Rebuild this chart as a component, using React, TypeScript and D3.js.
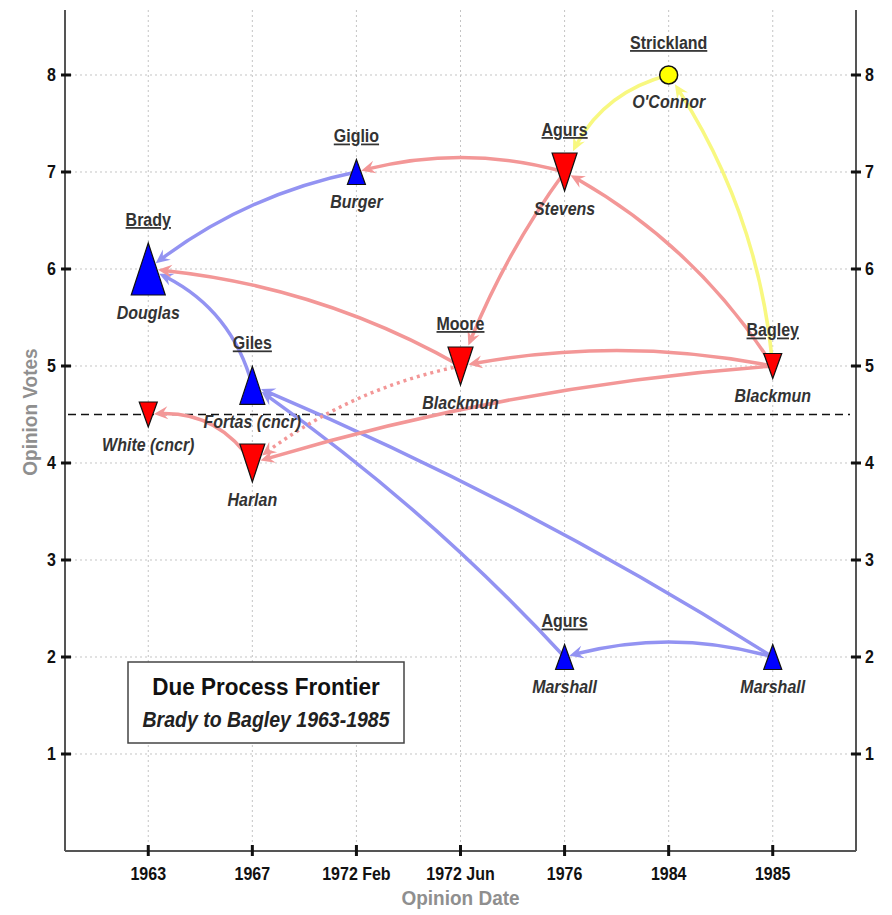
import React, { useRef, useEffect } from "react";
import * as d3 from "d3";

const W = 892;
const H = 915;

const dates = ["1963", "1967", "1972 Feb", "1972 Jun", "1976", "1984", "1985"];
const voteTicks = [1, 2, 3, 4, 5, 6, 7, 8];
const majorityLine = 4.5;

type Side = "lib" | "con" | "swing";

interface Opinion {
  id: string;
  date: string;
  votes: number;
  caseName: string;
  justice: string;
  side: Side;
  weight: number;
}

const opinions: Opinion[] = [
  { id: "brady", date: "1963", votes: 6, caseName: "Brady", justice: "Douglas", side: "lib", weight: 3 },
  { id: "white", date: "1963", votes: 4.5, caseName: "", justice: "White (cncr)", side: "con", weight: 1 },
  { id: "giles", date: "1967", votes: 4.8, caseName: "Giles", justice: "Fortas (cncr)", side: "lib", weight: 2 },
  { id: "harlan", date: "1967", votes: 4, caseName: "", justice: "Harlan", side: "con", weight: 2 },
  { id: "giglio", date: "1972 Feb", votes: 7, caseName: "Giglio", justice: "Burger", side: "lib", weight: 1 },
  { id: "moore", date: "1972 Jun", votes: 5, caseName: "Moore", justice: "Blackmun", side: "con", weight: 2 },
  { id: "agursMaj", date: "1976", votes: 7, caseName: "Agurs", justice: "Stevens", side: "con", weight: 2 },
  { id: "agursDis", date: "1976", votes: 2, caseName: "Agurs", justice: "Marshall", side: "lib", weight: 1 },
  { id: "strickland", date: "1984", votes: 8, caseName: "Strickland", justice: "O'Connor", side: "swing", weight: 1 },
  { id: "bagleyMaj", date: "1985", votes: 5, caseName: "Bagley", justice: "Blackmun", side: "con", weight: 1 },
  { id: "bagleyDis", date: "1985", votes: 2, caseName: "", justice: "Marshall", side: "lib", weight: 1 },
];

// [citing opinion, cited opinion, side, dotted]
const citations: [string, string, Side, boolean][] = [
  ["giglio", "brady", "lib", false],
  ["giles", "brady", "lib", false],
  ["agursDis", "giles", "lib", false],
  ["bagleyDis", "giles", "lib", false],
  ["bagleyDis", "agursDis", "lib", false],
  ["agursMaj", "giglio", "con", false],
  ["moore", "brady", "con", false],
  ["bagleyMaj", "agursMaj", "con", false],
  ["agursMaj", "moore", "con", false],
  ["bagleyMaj", "moore", "con", false],
  ["bagleyMaj", "harlan", "con", false],
  ["harlan", "white", "con", false],
  ["moore", "harlan", "con", true],
  ["strickland", "agursMaj", "swing", false],
  ["bagleyMaj", "strickland", "swing", false],
];

// how far each arrow bows away from the straight chord
const citationBend = [0.12, 0.25, 0.055, 0.042, 0.145, 0.14, 0.11, 0.13, 0.07, 0.1, 0.056, 0.31, 0.12, 0.27, 0.13];

const FONT = "'Liberation Sans', Arial, Helvetica, sans-serif";
const STRETCH = 1.1; // the source font is drawn a little taller than Arial

const markerFill: Record<Side, string> = { lib: "#0000ff", con: "#ff0000", swing: "#ffff00" };
const arrowColor: Record<Side, string> = { lib: "#9393f2", con: "#f39797", swing: "#f8f880" };

type Pt = [number, number];

export default function App() {
  const svgRef = useRef<SVGSVGElement>(null);

  useEffect(() => {
    if (!svgRef.current) return;
    const svg = d3.select(svgRef.current);
    svg.selectAll("*").remove();

    const left = 65;
    const right = 856;
    const top = 10;
    const bottom = 851;

    const x = d3.scalePoint<string>().domain(dates).range([left, right]).padding(0.8);
    const y = d3.scaleLinear().domain([0, 8.67]).range([bottom, top]);

    const byId = new Map(opinions.map((o) => [o.id, o]));
    const sizeOf = (o: Opinion): [number, number] =>
      o.side === "swing" ? [18, 18] : o.weight === 3 ? [34, 52] : o.weight === 2 ? [25, 38] : [18, 25];
    const pos = (o: Opinion): Pt => [x(o.date)!, y(o.votes)];

    const inside = (o: Opinion, p: Pt) => {
      const [cx, cy] = pos(o);
      if (o.side === "swing") return Math.hypot(p[0] - cx, p[1] - cy) < 11;
      const [w0, h0] = sizeOf(o);
      const w = w0 + 3;
      const h = h0 + 3;
      const dir = o.side === "lib" ? 1 : -1;
      const apexY = cy - (dir * h) / 2;
      const baseY = cy + (dir * h) / 2;
      const v = (p[1] - apexY) / (baseY - apexY);
      if (v < 0 || v > 1) return false;
      return Math.abs(p[0] - cx) <= (v * w) / 2;
    };

    const at = (sel: any, tx: number, ty: number) =>
      sel.attr("transform", `translate(${tx},${ty}) scale(1,${STRETCH})`);

    // grid
    const grid = svg.append("g").attr("stroke", "#c4c4c4").attr("stroke-width", 1).attr("stroke-dasharray", "2,3");
    dates.forEach((d) => {
      grid.append("line").attr("x1", x(d)!).attr("x2", x(d)!).attr("y1", top).attr("y2", bottom);
    });
    voteTicks.forEach((v) => {
      grid.append("line").attr("x1", left).attr("x2", right).attr("y1", y(v)).attr("y2", y(v));
    });

    // majority line
    svg
      .append("line")
      .attr("x1", left + 3)
      .attr("x2", right - 6)
      .attr("y1", y(majorityLine))
      .attr("y2", y(majorityLine))
      .attr("stroke", "#111")
      .attr("stroke-width", 1.5)
      .attr("stroke-dasharray", "8,5");

    // citation arrows
    const arrows = svg.append("g");
    const order: Side[] = ["lib", "con", "swing"];
    order.forEach((side) => {
      citations.forEach(([from, to, s, dotted], i) => {
        if (s !== side) return;
        const a = byId.get(from)!;
        const b = byId.get(to)!;
        const p0 = pos(a);
        const p2 = pos(b);
        const dx = p2[0] - p0[0];
        const dy = p2[1] - p0[1];
        const len = Math.hypot(dx, dy);
        const nx = -dy / len;
        const ny = dx / len;
        const bend = citationBend[i];
        const c: Pt = [(p0[0] + p2[0]) / 2 + nx * bend * len, (p0[1] + p2[1]) / 2 + ny * bend * len];
        const bez = (t: number): Pt => [
          (1 - t) * (1 - t) * p0[0] + 2 * (1 - t) * t * c[0] + t * t * p2[0],
          (1 - t) * (1 - t) * p0[1] + 2 * (1 - t) * t * c[1] + t * t * p2[1],
        ];
        let tEnd = 1;
        while (tEnd > 0 && inside(b, bez(tEnd))) tEnd -= 0.001;
        const tip = bez(tEnd);
        const der: Pt = [
          2 * (1 - tEnd) * (c[0] - p0[0]) + 2 * tEnd * (p2[0] - c[0]),
          2 * (1 - tEnd) * (c[1] - p0[1]) + 2 * tEnd * (p2[1] - c[1]),
        ];
        const dl = Math.hypot(der[0], der[1]);
        const u: Pt = [der[0] / dl, der[1] / dl];
        const n: Pt = [-u[1], u[0]];
        let t2 = tEnd;
        while (t2 > 0) {
          const q = bez(t2);
          if (Math.hypot(q[0] - tip[0], q[1] - tip[1]) >= 8) break;
          t2 -= 0.001;
        }
        const q0: Pt = [p0[0] + (c[0] - p0[0]) * t2, p0[1] + (c[1] - p0[1]) * t2];
        const r = bez(t2);
        const col = arrowColor[side];
        arrows
          .append("path")
          .attr("d", `M${p0[0]},${p0[1]} Q${q0[0]},${q0[1]} ${r[0]},${r[1]}`)
          .attr("fill", "none")
          .attr("stroke", col)
          .attr("stroke-width", 3.5)
          .attr("stroke-dasharray", dotted ? "3,4" : null);
        const L = 14;
        const Wd = 6.5;
        const pts: Pt[] = [
          tip,
          [tip[0] - u[0] * L + n[0] * Wd, tip[1] - u[1] * L + n[1] * Wd],
          [tip[0] - u[0] * (L - 5), tip[1] - u[1] * (L - 5)],
          [tip[0] - u[0] * L - n[0] * Wd, tip[1] - u[1] * L - n[1] * Wd],
        ];
        arrows
          .append("polygon")
          .attr("points", pts.map((p) => p.join(",")).join(" "))
          .attr("fill", col);
      });
    });

    // axes
    const axis = svg.append("g").attr("stroke", "#555").attr("stroke-width", 2);
    axis.append("line").attr("x1", left).attr("x2", left).attr("y1", top).attr("y2", bottom);
    axis.append("line").attr("x1", right).attr("x2", right).attr("y1", top).attr("y2", bottom);
    axis.append("line").attr("x1", left).attr("x2", right).attr("y1", bottom).attr("y2", bottom);

    const ticks = svg.append("g").attr("stroke", "#111").attr("stroke-width", 3);
    voteTicks.forEach((v) => {
      ticks.append("line").attr("x1", left - 4).attr("x2", left + 6).attr("y1", y(v)).attr("y2", y(v));
      ticks.append("line").attr("x1", right - 5).attr("x2", right + 5).attr("y1", y(v)).attr("y2", y(v));
    });
    dates.forEach((d) => {
      ticks.append("line").attr("x1", x(d)!).attr("x2", x(d)!).attr("y1", bottom - 6).attr("y2", bottom + 5);
    });

    const tickText = svg
      .append("g")
      .style("font-family", FONT)
      .style("font-weight", "bold")
      .style("font-size", "16px")
      .style("fill", "#111");
    voteTicks.forEach((v) => {
      at(tickText.append("text"), left - 9, y(v) + 6).attr("text-anchor", "end").text(v);
      at(tickText.append("text"), right + 9, y(v) + 6).attr("text-anchor", "start").text(v);
    });
    dates.forEach((d) => {
      at(tickText.append("text"), x(d)!, bottom + 29).attr("text-anchor", "middle").text(d);
    });

    at(svg.append("text"), (left + right) / 2, 905)
      .attr("text-anchor", "middle")
      .style("font-family", FONT)
      .style("font-weight", "bold")
      .style("font-size", "19px")
      .style("fill", "#8f8f8f")
      .text("Opinion Date");

    svg
      .append("text")
      .attr("transform", `translate(37,412) rotate(-90) scale(1,${STRETCH})`)
      .attr("text-anchor", "middle")
      .style("font-family", FONT)
      .style("font-weight", "bold")
      .style("font-size", "19px")
      .style("fill", "#8f8f8f")
      .text("Opinion Votes");

    // opinion markers
    const marks = svg.append("g");
    opinions.forEach((o) => {
      const [cx, cy] = pos(o);
      if (o.side === "swing") {
        marks
          .append("circle")
          .attr("cx", cx)
          .attr("cy", cy)
          .attr("r", 9)
          .attr("fill", markerFill.swing)
          .attr("stroke", "#111")
          .attr("stroke-width", 1.5);
        return;
      }
      const [w, h] = sizeOf(o);
      const dir = o.side === "lib" ? 1 : -1;
      const pts: Pt[] = [
        [cx, cy - (dir * h) / 2],
        [cx + w / 2, cy + (dir * h) / 2],
        [cx - w / 2, cy + (dir * h) / 2],
      ];
      marks
        .append("polygon")
        .attr("points", pts.map((p) => p.join(",")).join(" "))
        .attr("fill", markerFill[o.side])
        .attr("stroke", "#111")
        .attr("stroke-width", 1.2);
    });

    // labels
    const labels = svg
      .append("g")
      .style("font-family", FONT)
      .style("font-weight", "bold")
      .style("font-size", "16px")
      .style("fill", "#333");
    opinions.forEach((o) => {
      const [cx, cy] = pos(o);
      const h = sizeOf(o)[1];
      if (o.caseName) {
        at(labels.append("text"), cx, cy - h / 2 - 17)
          .attr("text-anchor", "middle")
          .style("text-decoration", "underline")
          .text(o.caseName);
      }
      at(labels.append("text"), cx, cy + h / 2 + 24)
        .attr("text-anchor", "middle")
        .style("font-style", "italic")
        .text(o.justice);
    });

    // title box
    const box = svg.append("g");
    box
      .append("rect")
      .attr("x", 128)
      .attr("y", 662)
      .attr("width", 276)
      .attr("height", 81)
      .attr("fill", "#fff")
      .attr("stroke", "#444")
      .attr("stroke-width", 1.5);
    at(box.append("text"), 266, 695)
      .attr("text-anchor", "middle")
      .style("font-family", FONT)
      .style("font-weight", "bold")
      .style("font-size", "22.5px")
      .style("fill", "#111")
      .text("Due Process Frontier");
    at(box.append("text"), 266, 727)
      .attr("text-anchor", "middle")
      .style("font-family", FONT)
      .style("font-weight", "bold")
      .style("font-style", "italic")
      .style("font-size", "19.5px")
      .style("fill", "#222")
      .text("Brady to Bagley 1963-1985");
  }, []);

  return (
    <div style={{ position: "absolute", left: 0, top: 0 }}>
      <svg ref={svgRef} width={W} height={H} viewBox={`0 0 ${W} ${H}`} style={{ display: "block", background: "#fff" }} />
    </div>
  );
}
